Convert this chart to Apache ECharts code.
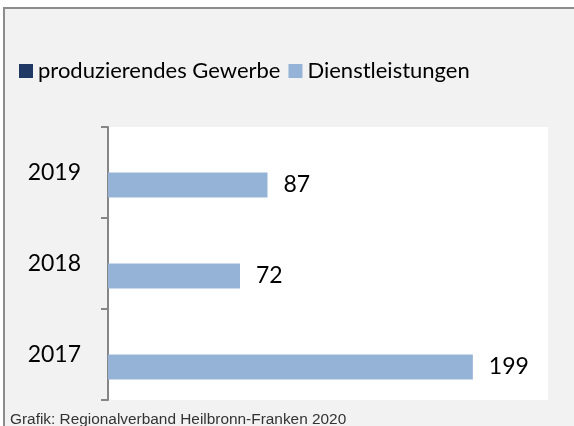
<!DOCTYPE html>
<html>
<head>
<meta charset="utf-8">
<script src="https://cdn.jsdelivr.net/npm/echarts@6/dist/echarts.min.js"></script>
<style>
  html, body { margin: 0; padding: 0; background: #fff; }
  #chart { width: 574px; height: 426px; }
</style>
</head>
<body>
<div id="chart"></div>
<script>
// Daten
var years = ['2017', '2018', '2019'];
var gewerbe = [null, null, null];
var dienstleistungen = [199, 72, 87];
var seriesNames = ['produzierendes Gewerbe', 'Dienstleistungen'];
var quelle = 'Grafik: Regionalverband Heilbronn-Franken 2020';

var myChart = echarts.init(document.getElementById('chart'));

var option = {
  backgroundColor: '#fff',
  animation: false,
  textStyle: { fontFamily: 'Lato' },
  // Rahmen + grauer Hintergrund
  graphic: [
    {
      type: 'rect',
      z: -10,
      shape: { x: 4, y: 8, width: 620, height: 500 },
      style: { fill: '#f2f2f2', stroke: '#8c8c8c', lineWidth: 2 }
    }
  ],
  title: {
    text: quelle,
    left: 10,
    top: 412,
    padding: 0,
    textStyle: { fontFamily: 'Liberation Sans', fontSize: 15.4, fontWeight: 'normal', color: '#333' }
  },
  legend: {
    left: 14,
    top: 55,
    icon: 'rect',
    itemWidth: 14,
    itemHeight: 14,
    itemGap: 8,
    data: seriesNames,
    textStyle: { fontSize: 22, color: '#000' }
  },
  grid: {
    left: 108,
    top: 127,
    width: 440,
    height: 273,
    show: true,
    backgroundColor: '#fff',
    borderWidth: 0
  },
  xAxis: {
    type: 'value',
    min: 0,
    max: 240,
    show: false
  },
  yAxis: {
    type: 'category',
    data: years,
    axisLine: { lineStyle: { color: '#868686', width: 2 } },
    axisTick: { show: true, length: 7, lineStyle: { color: '#868686', width: 2 } },
    axisLabel: { fontSize: 23, color: '#000', margin: 27 },
    splitLine: { show: false }
  },
  series: [
    {
      name: seriesNames[0],
      type: 'bar',
      barWidth: 25,
      barGap: '0%',
      itemStyle: { color: '#203864' },
      data: gewerbe
    },
    {
      name: seriesNames[1],
      type: 'bar',
      barWidth: 25,
      barGap: '0%',
      itemStyle: { color: '#95b3d7' },
      label: {
        show: true,
        position: 'right',
        distance: 16,
        fontSize: 23,
        color: '#000'
      },
      data: dienstleistungen
    }
  ]
};

option && myChart.setOption(option);
</script>
</body>
</html>
